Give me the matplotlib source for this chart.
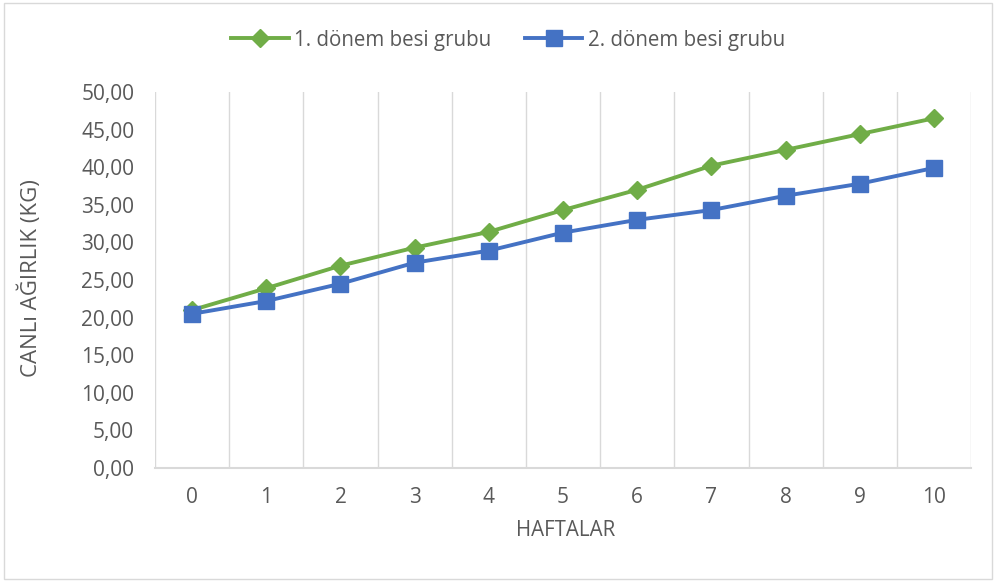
import matplotlib
matplotlib.use("Agg")
import matplotlib.pyplot as plt
from matplotlib.patches import Rectangle
from matplotlib.ticker import FuncFormatter, MultipleLocator

weeks = ["0", "1", "2", "3", "4", "5", "6", "7", "8", "9", "10"]
group1 = [21.0, 23.9, 26.9, 29.3, 31.4, 34.3, 37.0, 40.2, 42.3, 44.4, 46.5]
group2 = [20.5, 22.2, 24.5, 27.3, 28.9, 31.3, 33.0, 34.3, 36.2, 37.8, 39.9]
series_names = ["1. dönem besi grubu", "2. dönem besi grubu"]

GREEN = "#70AD47"
BLUE = "#4472C4"
TXT = "#595959"
GRID = "#D9D9D9"
FONT = "Open Sans"

fig = plt.figure(figsize=(9.96, 5.81), dpi=100)
fig.patches.append(Rectangle((0.004, 0.004), 0.992, 0.99, transform=fig.transFigure,
                             fill=False, edgecolor=GRID, linewidth=1.0))
ax = fig.add_axes([0.1556, 0.1945, 0.8194, 0.6472])

x = list(range(len(weeks)))
ax.plot(x, group1, color=GREEN, lw=2.8, marker="D", markersize=9.5, label=series_names[0], zorder=3)
ax.plot(x, group2, color=BLUE, lw=2.8, marker="s", markersize=12, label=series_names[1], zorder=4)

ax.set_xlim(-0.5, len(weeks) - 0.5)
ax.set_ylim(0, 50)
ax.yaxis.set_major_locator(MultipleLocator(5))
ax.yaxis.set_major_formatter(FuncFormatter(lambda v, p: f"{v:.2f}".replace(".", ",")))
ax.set_xticks(x)
ax.set_xticklabels(weeks)
for b in [i - 0.5 for i in range(len(weeks) + 1)]:
    ax.axvline(b, color=GRID, lw=1.0, zorder=1)

for s in ["top", "right", "left"]:
    ax.spines[s].set_visible(False)
ax.spines["bottom"].set_color(GRID)
ax.spines["bottom"].set_linewidth(1.5)
ax.tick_params(axis="both", length=0, colors=TXT, labelsize=15)
ax.tick_params(axis="y", pad=15)
ax.tick_params(axis="x", pad=14)
for lab in ax.get_xticklabels() + ax.get_yticklabels():
    lab.set_fontfamily(FONT)

fig.text(566 / 996, 1 - 531 / 581, "HAFTALAR", fontsize=14.8, color=TXT, family=FONT,
         ha="center", va="center")
fig.text(30 / 996, 1 - 278 / 581, "CANLı AĞIRLIK (KG)", fontsize=16, color=TXT, family=FONT,
         ha="center", va="center", rotation=90)

leg = fig.legend(loc="center", bbox_to_anchor=(0.51, 0.931), ncol=2, frameon=False,
                 prop={"family": FONT, "size": 14.8}, handlelength=2.8, columnspacing=1.65,
                 handletextpad=0.25)
for t in leg.get_texts():
    t.set_color(TXT)

fig.savefig("out.png", dpi=100)
